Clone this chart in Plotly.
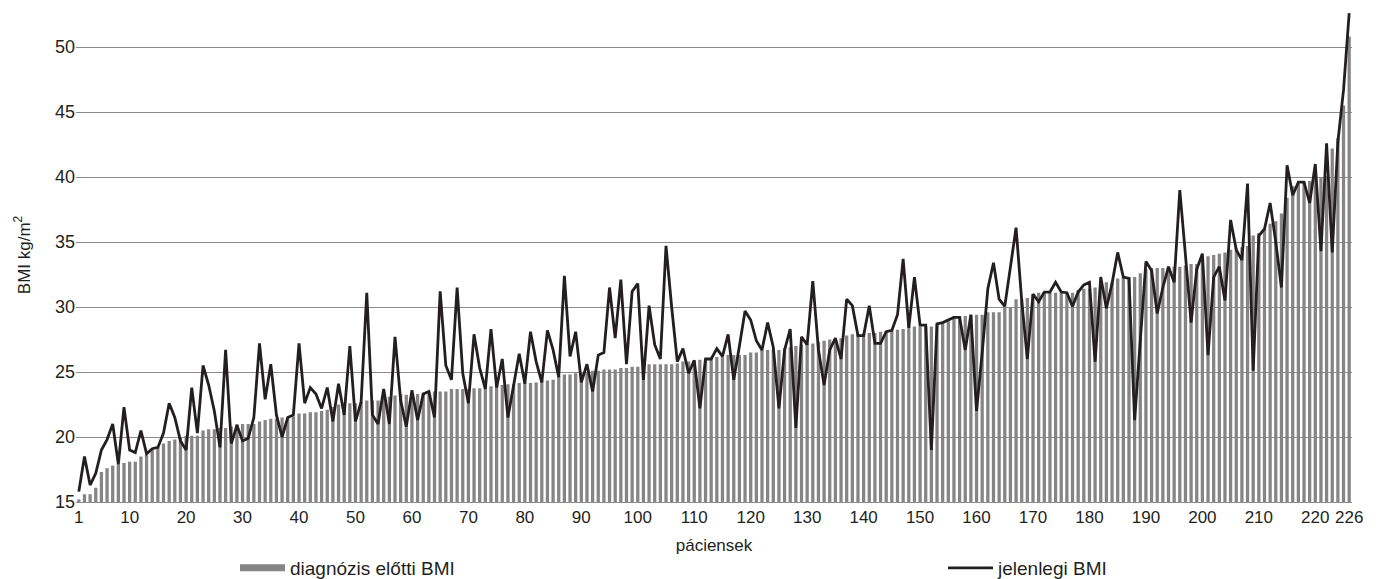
import plotly.graph_objects as go

patients = list(range(1, 227))

bmi_before = [
    15.2, 15.6, 15.6, 16.1, 17.3, 17.6, 17.8, 17.9, 18.0, 18.1, 18.1, 18.5, 18.6, 19.0, 19.2, 19.5, 19.7, 19.8, 20.0, 20.1,
    20.1, 20.1, 20.5, 20.6, 20.6, 20.7, 20.7,
    20.8, 21.0, 21.0, 21.0, 21.0, 21.2, 21.3, 21.4, 21.4, 21.5, 21.5, 21.6, 21.8, 21.8, 21.9, 21.9, 22.0, 22.1, 22.3, 22.5,
    22.5, 22.6, 22.6, 22.7, 22.8, 22.8, 22.8, 23.0, 23.1, 23.2, 23.3,
    23.25, 23.3, 23.3, 23.4, 23.45, 23.5, 23.5, 23.5, 23.7, 23.7, 23.7, 23.7, 23.75, 23.75, 23.85, 23.9, 24.0, 24.0, 24.05,
    24.05, 24.15, 24.15, 24.15, 24.2, 24.35, 24.35, 24.4, 24.7, 24.8, 24.8,
    24.9, 24.9, 25.0, 25.1, 25.1, 25.2, 25.2, 25.2, 25.3, 25.3, 25.4, 25.4, 25.4, 25.6, 25.6, 25.6, 25.6, 25.6, 25.65, 25.8,
    25.8, 25.9, 25.95, 26.0, 26.1, 26.15, 26.15, 26.3, 26.3, 26.3,
    26.3, 26.5, 26.5, 26.7, 26.7, 26.7, 26.7, 26.8, 26.9, 27.0, 27.1, 27.2, 27.2, 27.3, 27.4, 27.5, 27.5, 27.6, 27.8, 27.9,
    27.9, 27.95, 28.0, 28.0, 28.1, 28.15, 28.2, 28.25, 28.3, 28.6,
    28.5, 28.5, 28.5, 28.5, 28.7, 28.8, 28.9, 29.3, 29.3, 29.3, 29.4, 29.4, 29.4, 29.6, 29.6, 29.6, 30.0, 30.0, 30.6, 30.6,
    30.7, 31.0, 31.1, 31.1, 31.1, 31.1, 31.1, 31.1, 31.1, 31.3, 31.4,
    31.4, 31.5, 31.6, 31.9, 31.9, 32.2, 32.3, 32.3, 32.3, 32.6, 32.9, 33.0, 33.0, 33.0, 33.1, 33.1, 33.1, 33.2, 33.3, 33.3,
    33.8, 33.9, 34.0, 34.1, 34.2, 34.4,
    34.5, 34.6, 34.7, 35.5, 35.7, 36.0, 36.4, 36.6, 37.2, 38.4, 39.3, 39.5, 39.6, 39.7, 40.0, 40.0, 40.1, 42.2, 43.0, 45.5,
    50.8,
]

bmi_current = [
    15.8, 18.5, 16.3, 17.2, 19.0, 19.8, 21.0, 17.9, 22.3, 19.0, 18.8, 20.5, 18.7, 19.1, 19.2, 20.3, 22.6, 21.5, 19.7, 19.0,
    23.8, 20.3, 25.5, 24.0, 22.0, 19.2, 26.7, 19.5, 20.9,
    19.7, 19.9, 21.5, 27.2, 22.9, 25.6, 21.7, 20.0, 21.5, 21.7, 27.2, 22.6, 23.8, 23.3, 22.2, 23.8, 21.2, 24.1, 21.7, 27.0,
    21.2, 22.7, 31.1, 21.7, 21.0, 23.7, 21.0, 27.7, 22.8,
    20.8, 23.6, 21.3, 23.3, 23.5, 21.5, 31.2, 25.5, 24.4, 31.5, 24.9, 22.6, 27.9, 25.3, 23.7, 28.3, 23.8, 26.0, 21.5, 24.1,
    26.4, 24.1, 28.1, 25.8, 24.2, 28.2, 26.7, 24.6, 32.4, 26.2,
    28.1, 24.2, 25.6, 23.5, 26.3, 26.5, 31.5, 27.6, 32.1, 25.6, 31.2, 31.8, 24.4, 30.1, 27.1, 26.0, 34.7, 30.0, 25.8, 26.8,
    24.9, 25.9, 22.2, 26.0, 26.0, 26.8, 26.2, 27.9, 24.4, 27.0, 29.7,
    29.0, 27.4, 26.7, 28.8, 26.9, 22.2, 26.7, 28.3, 20.7, 27.7, 27.1, 32.0, 26.7, 24.0, 26.7, 27.6, 26.0, 30.6, 30.1, 27.8,
    27.8, 30.1, 27.2, 27.2, 28.1, 28.2, 29.4, 33.7, 28.4, 32.3,
    28.6, 28.6, 19.0, 28.7, 28.8, 29.0, 29.2, 29.2, 26.7, 29.4, 22.0, 26.5, 31.4, 33.4, 30.6, 30.05, 33.1, 36.1, 30.5, 26.0,
    31.0, 30.4, 31.15, 31.15, 31.9, 31.15, 31.1, 30.05, 31.15, 31.7,
    31.9, 25.8, 32.3, 29.9, 31.8, 34.2, 32.3, 32.2, 21.3, 27.5, 33.5, 32.8, 29.5, 31.5, 33.1, 31.9, 39.0, 34.0, 28.8, 32.9,
    34.1, 26.3, 32.3, 33.1, 30.5, 36.7, 34.4,
    33.6, 39.5, 25.1, 35.5, 36.0, 38.0, 35.0, 31.5, 40.9, 38.6, 39.6, 39.6, 38.0, 41.0, 34.3, 42.6, 34.2, 42.7, 46.7, 52.6,
]

x_tick_vals = [1, 10, 20, 30, 40, 50, 60, 70, 80, 90, 100, 110, 120, 130, 140, 150, 160, 170, 180, 190, 200, 210, 220, 226]
y_tick_vals = [15, 20, 25, 30, 35, 40, 45, 50]

name_before = "diagnózis előtti BMI"
name_current = "jelenlegi BMI"

BAR_COLOR = "#858585"
LINE_COLOR = "#231f20"
TEXT_COLOR = "#231f20"
FONT = "Liberation Sans, Arial, sans-serif"

W, H = 1378, 579
L, R, T, B = 76, 26, 8, 77
PW = W - L - R
PH = H - T - B

fig = go.Figure()
fig.add_trace(go.Bar(
    x=patients, y=bmi_before, name=name_before,
    marker=dict(color=BAR_COLOR, line=dict(width=0)),
    showlegend=False, legendgroup="before",
))
# legend proxy for the bars (wide flat swatch as in the reference)
fig.add_trace(go.Scatter(
    x=[None], y=[None], mode="lines", name=name_before,
    line=dict(color=BAR_COLOR, width=7), legendgroup="before", legend="legend",
))
fig.add_trace(go.Scatter(
    x=patients, y=bmi_current, mode="lines", name=name_current,
    line=dict(color=LINE_COLOR, width=2.8), legend="legend2",
))

leg_y = (H - B - 568) / PH

fig.update_layout(
    width=W, height=H,
    margin=dict(l=L, r=R, t=T, b=B, autoexpand=False),
    paper_bgcolor="white", plot_bgcolor="white",
    font=dict(family=FONT, size=17, color=TEXT_COLOR),
    bargap=0.42,
    showlegend=True,
    legend=dict(
        x=(235 - L) / PW, y=leg_y, xanchor="left", yanchor="middle",
        orientation="h", itemwidth=45, font=dict(size=19, color=TEXT_COLOR),
        bgcolor="rgba(0,0,0,0)",
    ),
    legend2=dict(
        x=(943 - L) / PW, y=leg_y, xanchor="left", yanchor="middle",
        orientation="h", itemwidth=45, font=dict(size=19, color=TEXT_COLOR),
        bgcolor="rgba(0,0,0,0)",
    ),
    xaxis=dict(
        range=[0.5, 226.5], tickmode="array", tickvals=x_tick_vals,
        ticktext=[str(v) for v in x_tick_vals],
        showgrid=False, zeroline=False, showline=True, linecolor="#8c8c8c", linewidth=1,
        ticks="", tickangle=0, tickfont=dict(size=17),
        title=dict(text="páciensek", font=dict(size=17), standoff=12),
    ),
    yaxis=dict(
        range=[15, 53], tickmode="array", tickvals=y_tick_vals,
        showgrid=True, gridcolor="#8c8c8c", gridwidth=1, zeroline=False,
        showline=False, ticks="", tickfont=dict(size=18),
        title=dict(text="BMI kg/m<sup>2</sup>", font=dict(size=17), standoff=20),
    ),
)

fig.write_html(
    "out.html",
    config={"displayModeBar": False},
    post_script="document.body.style.margin='0px';",
)
